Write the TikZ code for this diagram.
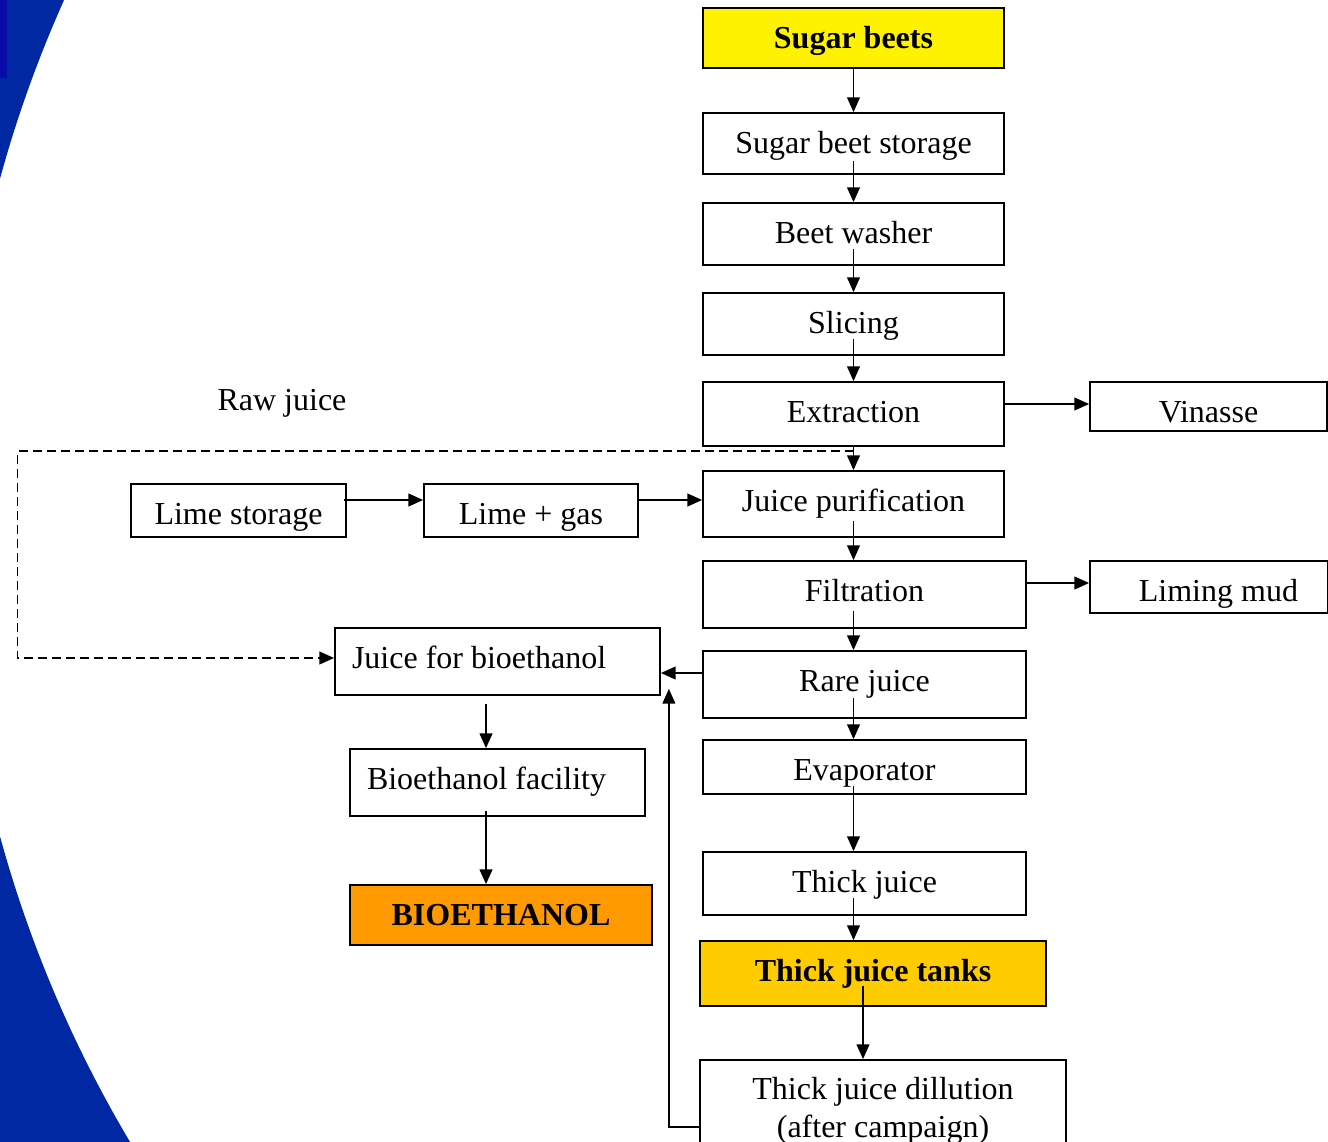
\documentclass[tikz,border=0pt]{standalone}
\usepackage{fontspec}
\setmainfont{Liberation Serif}
\usetikzlibrary{arrows.meta,calc}
\definecolor{bgblue}{RGB}{0,40,162}
\definecolor{darkblue}{RGB}{10,12,170}
\definecolor{tankyellow}{RGB}{255,204,0}
\definecolor{bioorange}{RGB}{255,153,0}
\begin{document}
\begin{tikzpicture}[x=0.75pt,y=-0.75pt,
  bx/.style n args={2}{draw=black, line width=1.3pt, minimum width=#1*0.75pt, minimum height=#2*0.75pt, inner sep=0pt, text height=30pt, text depth=#2*0.75pt-30pt, font=\fontsize{24pt}{28pt}\selectfont, align=center},
  arr/.style={line width=1.3pt, -{Triangle[length=11pt,width=9.5pt]}},
  dasharr/.style={line width=1.2pt, dash pattern=on 6.5pt off 4pt, -{Triangle[length=11pt,width=9.5pt]}}
]
\useasboundingbox (0,0) rectangle (1328,1142);
\fill[white] (0,0) rectangle (1328,1142);
% background blue shape
\begin{scope}
  \clip (0,0) rectangle (660,1142);
  \fill[bgblue, even odd rule] (-20,-20) rectangle (680,1162) (1198,507.5) circle[radius=931.5pt];
\end{scope}
\fill[darkblue] (0,0) rectangle (7,78);

% nodes
\node[bx={301}{60}, fill=yellow, font=\fontsize{24pt}{28pt}\selectfont\bfseries] (sb) at (853.5,38) {Sugar beets};
\node[bx={301}{61}] (sbs) at (853.5,143.5) {Sugar beet storage};
\node[bx={301}{62}] (bw) at (853.5,234) {Beet washer};
\node[bx={301}{62}] (sl) at (853.5,324) {Slicing};
\node[bx={301}{64}] (ex) at (853.5,414) {Extraction};
\node[bx={237}{49}] (vin) at (1208.5,406.5) {Vinasse};
\node[bx={301}{66}] (jp) at (853.5,504) {Juice purification};
\node[bx={215}{53}] (ls) at (238.5,510.5) {Lime storage};
\node[bx={214}{53}] (lg) at (531,510.5) {Lime + gas};
\node[bx={323}{67}] (fi) at (864.5,594.5) {Filtration};
\node[bx={238}{52}, text width=178*0.75pt, align=flush right] (lm) at (1209,587) {Liming mud};
\node[bx={325}{67}, text width=291*0.75pt, align=flush left] (jb) at (497.5,661.5) {Juice for bioethanol};
\node[bx={323}{67}] (rj) at (864.5,684.5) {Rare juice};
\node[bx={295}{67}, text width=261*0.75pt, align=flush left] (bf) at (497.5,782.5) {Bioethanol facility};
\node[bx={323}{54}] (ev) at (864.5,767) {Evaporator};
\node[bx={323}{63}] (tj) at (864.5,883.5) {Thick juice};
\node[bx={302}{60}, fill=bioorange, font=\fontsize{24pt}{28pt}\selectfont\bfseries] (bio) at (501,915) {BIOETHANOL};
\node[bx={346}{65}, fill=tankyellow, font=\fontsize{24pt}{28pt}\selectfont\bfseries] (tjt) at (873,973.5) {Thick juice tanks};
\node[bx={366}{105}, text height=57.75pt, text depth=21pt] (tjd) at (883,1112.5) {Thick juice dillution\\(after campaign)};
\node[font=\fontsize{24pt}{28pt}\selectfont, inner sep=0pt] (raw) at (282,403) {Raw juice};

% main column arrows
\draw[arr] (sb.south) -- (sbs.north);
\draw[arr] ($(sbs.south)+(0,-14)$) -- (bw.north);
\draw[arr] ($(bw.south)+(0,-17)$) -- (sl.north);
\draw[arr] ($(sl.south)+(0,-17)$) -- (ex.north);
\draw[arr] (ex.south) -- (jp.north);
\draw[arr] ($(jp.south)+(0,-17)$) -- (fi.north -| sb.south);
\draw[arr] ($(fi.south -| sb.south)+(0,-18)$) -- (rj.north -| sb.south);
\draw[arr] ($(rj.south -| sb.south)+(0,-21)$) -- (ev.north -| sb.south);
\draw[arr] ($(ev.south -| sb.south)+(0,-9)$) -- (tj.north -| sb.south);
\draw[arr] ($(tj.south -| sb.south)+(0,-18)$) -- (tjt.north -| sb.south);
\draw[arr] ($(tjt.south)+(-10,-21)$) -- ($(tjd.north)+(-20,0)$);

% side arrows
\draw[arr] ($(ex.east)+(0,-10)$) -- ($(vin.west)+(0,-2.5)$);
\draw[arr] ($(fi.east)+(0,-11.5)$) -- ($(lm.west)+(0,-4)$);
\draw[arr] ($(ls.east)+(-3,-10.5)$) -- ($(lg.west)+(0,-10.5)$);
\draw[arr] ($(lg.east)+(-2,-10.5)$) -- ($(jp.west)+(0,-4)$);
\draw[arr] ($(rj.west)+(0,-11.5)$) -- ($(jb.east)+(0,11.5)$);
\draw[arr] ($(tjd.west)+(0,14.5)$) -| ($(jb.south east)+(8,-7)$);

% dashed raw juice path
\draw[dasharr] ($(ex.south)+(0,4)$) -- ++(-836,0) |- ($(jb.west)+(0,-3.5)$);

% bioethanol branch
\draw[arr] ($(jb.south)+(-11.5,8)$) -- ($(bf.north)+(-11.5,0)$);
\draw[arr] ($(bf.south)+(-11.5,-6)$) -- ($(bio.north)+(-15,0)$);
\end{tikzpicture}
\end{document}
